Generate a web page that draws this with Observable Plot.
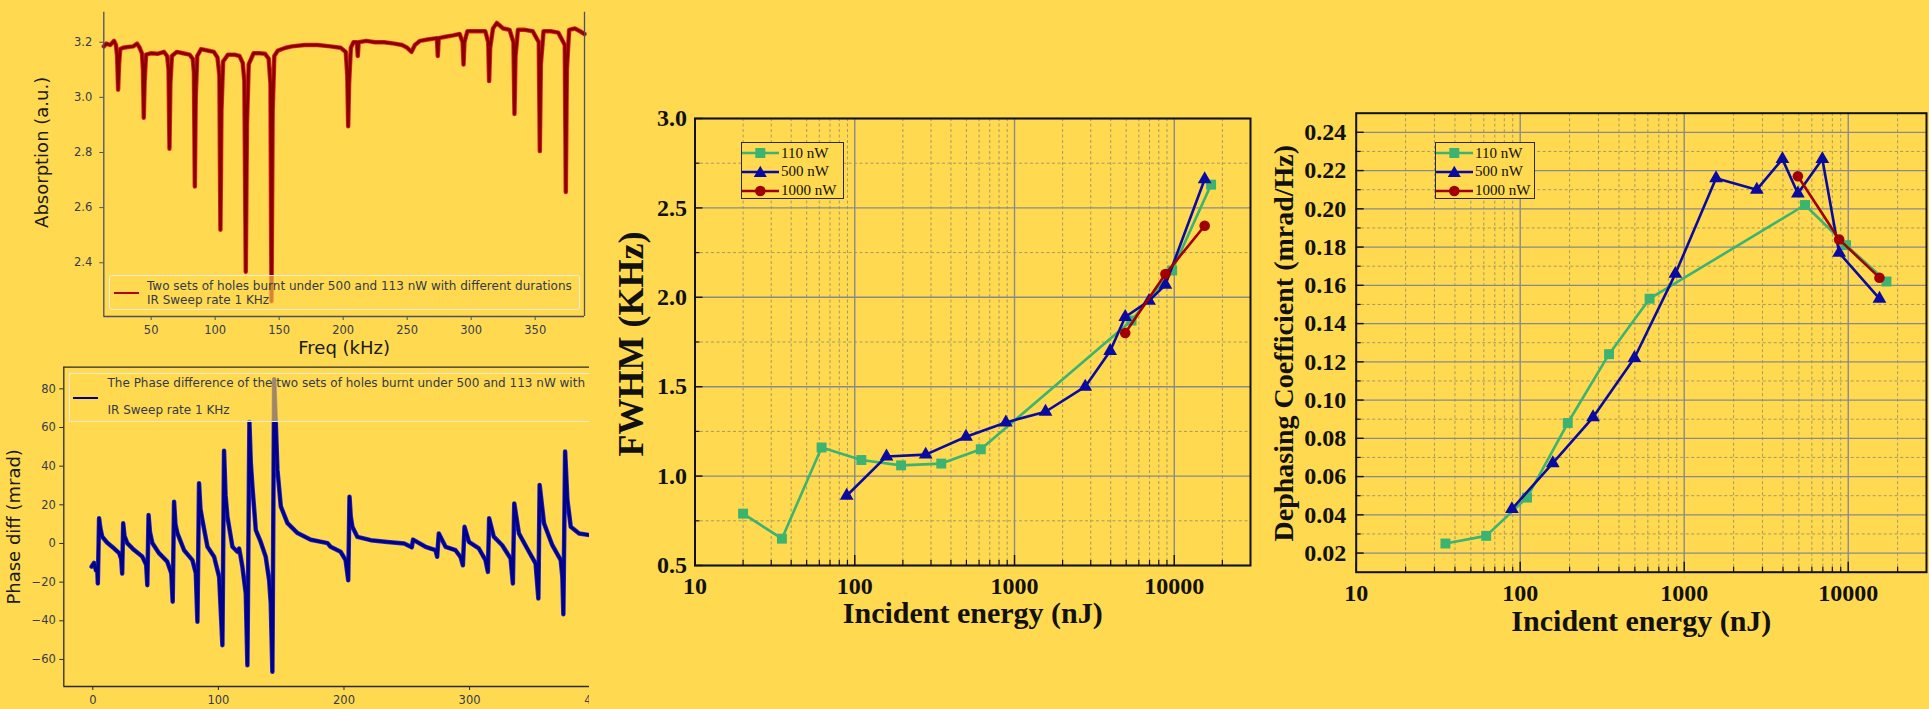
<!DOCTYPE html>
<html>
<head>
<meta charset="utf-8">
<script src="https://cdn.jsdelivr.net/npm/d3@7"></script>
<script src="https://cdn.jsdelivr.net/npm/@observablehq/plot@0.6"></script>
<style>
html,body{margin:0;padding:0;}
body{background:#FFD950;width:1929px;height:709px;overflow:hidden;position:relative;}
.panel{position:absolute;overflow:hidden;}
.panel svg{display:block;background:transparent;max-width:none;}
.mlegend{position:absolute;box-sizing:border-box;border:1px solid rgba(236,234,222,0.95);border-radius:3px;background:rgba(255,217,80,0.62);font-family:"DejaVu Sans",sans-serif;font-size:12px;color:#343a4a;overflow:hidden;}
.mlegend .txt{position:absolute;white-space:nowrap;line-height:14px;}
.mlegend .swatch{position:absolute;height:2px;}
.olegend{position:absolute;box-sizing:border-box;border:1.3px solid #2a2a2a;background:#FFD950;font-family:"Liberation Serif",serif;font-size:15px;color:#111;}
.olegend .row{position:absolute;left:0;height:16px;display:flex;align-items:center;white-space:nowrap;}
.olegend .row svg{display:block;margin-right:2px;}
</style>
</head>
<body>
<div id="pA" class="panel" style="left:0;top:0;width:600px;height:360px"></div>
<div id="pB" class="panel" style="left:0;top:355px;width:589px;height:354px"></div>
<div id="pC" class="panel" style="left:600px;top:90px;width:660px;height:560px"></div>
<div id="pD" class="panel" style="left:1260px;top:90px;width:669px;height:560px"></div>
<script>
// ---------- Panel A: absorption spectrum ----------
const absFreq = [13,15,18,21,22.5,23.4,24.2,24.9,25.8,28,32,36,39,41,42.8,43.6,44.2,44.9,46,50,55,60,62.5,63.6,64.3,65,66.2,70,75,80,82.5,83.4,84.1,84.8,86,89,94,99,101.8,103.3,104.1,104.9,106.2,110,115,119,121.5,122.8,123.9,124.8,126.2,130,135,139,141.8,143.2,144,144.9,146.2,149,155,160,170,180,190,198,202,203.2,203.9,204.6,206,208,210.7,211.4,212.1,218,225,232,240,246,250,253.4,256,260,266,273.2,273.9,274.6,280,286,291,293.3,294,294.7,297,305,311,313.3,314,314.8,317,320,325,330,333,333.8,334.6,336.5,342,348,352.8,353.6,354.4,356.5,362,368,373.1,373.9,374.7,376.5,381,385,388.5];
const absValue = [3.185,3.195,3.19,3.205,3.19,3.15,3.028,3.12,3.175,3.18,3.183,3.185,3.195,3.18,3.16,3.1,2.926,3.06,3.155,3.16,3.158,3.165,3.15,3.1,2.814,3.05,3.15,3.165,3.16,3.155,3.14,3.09,2.677,3.0,3.15,3.175,3.17,3.165,3.145,3.08,2.52,2.95,3.13,3.155,3.155,3.15,3.125,3.06,2.367,2.9,3.12,3.16,3.16,3.158,3.14,3.05,2.26,2.95,3.15,3.17,3.18,3.185,3.19,3.19,3.185,3.18,3.165,3.08,2.895,3.05,3.18,3.2,3.2,3.15,3.2,3.205,3.2,3.2,3.195,3.19,3.18,3.165,3.19,3.205,3.21,3.215,3.15,3.215,3.22,3.225,3.23,3.2,3.119,3.2,3.24,3.24,3.24,3.2,3.059,3.18,3.25,3.27,3.25,3.245,3.2,2.94,3.15,3.245,3.245,3.24,3.2,2.805,3.12,3.24,3.24,3.235,3.19,2.657,3.1,3.245,3.25,3.24,3.23];
const absXTicks = [50,100,150,200,250,300,350];
const absYTicks = [2.4,2.6,2.8,3.0,3.2];
const absXDomain = [13,388.5];
const absYDomain = [2.205,3.309];
const absLegend = ["Two sets of holes burnt under 500 and 113 nW with different durations","IR Sweep rate 1 KHz"];

// ---------- Panel B: phase difference ----------
const phaseFreq = [-1,1,2.5,3.5,4.0,5.0,6,7.5,11.5,16.8,21,22.6,23.4,24.2,25.2,27.4,32.7,39.4,42.5,43.4,44.4,45.5,47.4,52.7,59.3,62.5,63.6,64.7,65.8,67.4,72.7,79.3,82,83.3,84.6,85.7,87.3,91.3,96.6,100.6,103.2,104.5,105.7,107.2,111.2,115.1,116.5,117.5,119.1,121.8,123.1,124.7,125.8,127.1,129.8,133.7,137.7,140.4,141.7,143,144.4,145.7,147,149.7,155,163,173.6,186.9,189.3,197.3,201.3,203.4,204.4,205.4,206.7,210.7,221.3,234.6,247.9,254,255,264.9,272.9,274.2,275.5,280.9,288.8,292.8,294.7,296,299.5,307.4,312.7,314.6,315.6,319.3,326,332.7,334.5,335.6,339.3,345.9,352.6,354.8,355.8,359.3,365.9,372.6,373.9,374.7,376.1,377.9,380.6,387.2,396.5];
const phaseValue = [-12,-10,-14,-13,-20.7,13,8,3.5,0.4,-2.5,-5,-8,-15.6,10.4,4,0.2,-3.3,-6.8,-11,-21.6,14.7,6,0.2,-5,-9.4,-15.4,-30.1,21.6,10,5.2,-3.5,-8.6,-15.4,-40.5,31.1,18,12,-1.7,-6.9,-17.3,-52.7,48,25,13.8,-1.7,-4.3,-2.6,-6,-12,-25.9,-63,63,42,29.3,6.9,0.8,-6.9,-19,-31,-66.4,85,62.4,38.2,19.2,10.5,5.4,1.9,0.2,-1.7,-4.3,-8.6,-19,24.2,14,8.6,3.4,1.7,0.8,0,-2,2,-1.7,-3.5,-6.9,5.2,-1.7,-3.5,-7,-11.3,8.6,0.8,-2.6,-8.6,-14.7,13,3.5,-0.9,-7.8,-20.7,20.7,5.2,-2.6,-10.4,-28.5,30.2,10.4,-0.9,-8.6,-17.3,-36.6,47.6,22.5,8.6,5.2,4.3];
const phaseXTicks = [0,100,200,300,400];
const phaseYTicks = [-60,-40,-20,0,20,40,60,80];
const phaseXDomain = [-23.1,420.2];
const phaseYDomain = [-74,91.2];
const phaseLegend = ["The Phase difference of the two sets of holes burnt under 500 and 113 nW with","IR Sweep rate 1 KHz"];

// ---------- Panels C and D: FWHM and dephasing ----------
const seriesLabels = ["110 nW","500 nW","1000 nW"];
const seriesColors = ["#3cb371","#0a0aa0","#a00000"];
const seriesSymbols = ["square","triangle","circle"];
const energy110 = [20,35,62,110,195,348,615,5400,9700,17000];
const fwhm110 = [0.79,0.65,1.16,1.09,1.06,1.07,1.15,1.87,2.15,2.63];
const energy500 = [89,158,278,497,883,1563,2770,3970,4930,6950,8800,15500];
const fwhm500 = [0.89,1.11,1.12,1.22,1.30,1.36,1.50,1.70,1.89,1.98,2.07,2.66];
const energy1000 = [4930,8800,15500];
const fwhm1000 = [1.80,2.13,2.40];
const depEnergy110 = [35,62,110,195,348,615,5450,9700,17100];
const dep110 = [0.025,0.029,0.049,0.088,0.124,0.153,0.202,0.181,0.162];
const dep500 = [0.043,0.067,0.091,0.122,0.166,0.216,0.210,0.226,0.208,0.226,0.177,0.153];
const dep1000 = [0.217,0.184,0.164];
const logTicks = [10,100,1000,10000];
const logMinor = [20,30,40,50,60,70,80,90,200,300,400,500,600,700,800,900,2000,3000,4000,5000,6000,7000,8000,9000,20000];
const fwhmTicks = [0.5,1.0,1.5,2.0,2.5,3.0];
const fwhmMinor = [0.75,1.25,1.75,2.25,2.75];
const depTicks = [0.02,0.04,0.06,0.08,0.10,0.12,0.14,0.16,0.18,0.20,0.22,0.24];
const depMinor = [0.03,0.05,0.07,0.09,0.11,0.13,0.15,0.17,0.19,0.21,0.23];
const energyLabel = "Incident energy (nJ)";

const spine = "#4b5162";
const tickText = "#363b4b";

// Panel A
{
  const idx = d3.range(absFreq.length);
  const p = Plot.plot({
    width:600, height:360, marginLeft:103.3, marginRight:16, marginTop:11.7, marginBottom:44,
    style:{background:"transparent", color:tickText, fontFamily:"DejaVu Sans, sans-serif", fontSize:"11.5px"},
    x:{domain:absXDomain}, y:{domain:absYDomain},
    marks:[
      Plot.line(idx,{x:i=>absFreq[i], y:i=>absValue[i], stroke:"#dc2626", strokeWidth:4.5, strokeLinejoin:"round"}),
      Plot.line(idx,{x:i=>absFreq[i], y:i=>absValue[i], stroke:"#8b0000", strokeWidth:2.8, strokeLinejoin:"round"}),
      Plot.ruleX(absXDomain,{stroke:spine, strokeWidth:1.3}),
      Plot.ruleY([absYDomain[0]],{stroke:spine, strokeWidth:1.3}),
      Plot.axisX({ticks:absXTicks, tickSize:4, tickPadding:5, fontSize:11.5, label:null, stroke:spine}),
      Plot.axisY({ticks:absYTicks, tickFormat:d3.format(".1f"), tickSize:4, tickPadding:7.5, fontSize:11.5, label:null, stroke:spine}),
      Plot.text(["Freq (kHz)"],{frameAnchor:"bottom", dy:32, textAnchor:"middle", lineAnchor:"middle", fontSize:18, fill:"#1a1a1a"}),
      Plot.text(["Absorption (a.u.)"],{frameAnchor:"left", dx:-62, dy:-12, rotate:-90, textAnchor:"middle", lineAnchor:"middle", fontSize:18, fill:"#1a1a1a"})
    ]
  });
  const host = document.getElementById("pA");
  host.appendChild(p);
  const lg = document.createElement("div");
  lg.className = "mlegend";
  Object.assign(lg.style,{left:"109px", top:"275px", width:"471px", height:"35px"});
  lg.innerHTML = `<div class="swatch" style="left:4px;top:16px;width:25px;background:#b80000"></div>` +
    absLegend.map((t,i)=>`<div class="txt" style="left:37px;top:${3+i*14}px">${t}</div>`).join("");
  host.appendChild(lg);
}

// Panel B
{
  const idx = d3.range(phaseFreq.length);
  const p = Plot.plot({
    width:620, height:354, marginLeft:63.3, marginRight:0, marginTop:11.7, marginBottom:23,
    style:{background:"transparent", color:tickText, fontFamily:"DejaVu Sans, sans-serif", fontSize:"11.5px"},
    x:{domain:phaseXDomain}, y:{domain:phaseYDomain},
    marks:[
      Plot.line(idx,{x:i=>phaseFreq[i], y:i=>phaseValue[i], stroke:"#2b2bb5", strokeWidth:4.5, strokeLinejoin:"round"}),
      Plot.line(idx,{x:i=>phaseFreq[i], y:i=>phaseValue[i], stroke:"#00008b", strokeWidth:3, strokeLinejoin:"round"}),
      Plot.ruleX([phaseXDomain[0]],{stroke:"#2a2a2a", strokeWidth:1.3}),
      Plot.ruleY(phaseYDomain,{stroke:"#2a2a2a", strokeWidth:1.3}),
      Plot.axisX({ticks:phaseXTicks, tickSize:4, tickPadding:5, fontSize:11.5, label:null, stroke:"#2a2a2a"}),
      Plot.axisY({ticks:phaseYTicks, tickSize:4, tickPadding:4, fontSize:11.5, label:null, stroke:"#2a2a2a"}),
      Plot.text(["Phase diff (mrad)"],{frameAnchor:"left", dx:-50, rotate:-90, textAnchor:"middle", lineAnchor:"middle", fontSize:18, fill:"#1a1a1a"})
    ]
  });
  const host = document.getElementById("pB");
  host.appendChild(p);
  const lg = document.createElement("div");
  lg.className = "mlegend";
  Object.assign(lg.style,{left:"69px", top:"17.7px", width:"530px", height:"49px", borderRadius:"0"});
  lg.innerHTML = `<div class="swatch" style="left:3px;top:23px;width:25px;background:#00008b"></div>` +
    phaseLegend.map((t,i)=>`<div class="txt" style="left:37.5px;top:${2+i*27.6}px">${t}</div>`).join("");
  host.appendChild(lg);
}

function symbolSvg(sym, color){
  if (sym==="square") return `<rect x="13.3" y="3" width="10" height="10" fill="${color}"/>`;
  if (sym==="triangle") return `<polygon points="18.3,1.8 24.8,13 11.8,13" fill="${color}"/>`;
  return `<circle cx="18.3" cy="8" r="5.3" fill="${color}"/>`;
}
function originLegend(host, left, top, width){
  const box = document.createElement("div");
  box.className = "olegend";
  Object.assign(box.style,{left:left+"px", top:top+"px", width:width+"px", height:"57.5px"});
  box.innerHTML = seriesLabels.map((lab,i)=>
    `<div class="row" style="top:${2.5+18.7*i}px"><svg width="37" height="16"><line x1="0" y1="8" x2="37" y2="8" stroke="${seriesColors[i]}" stroke-width="2.5"/>${symbolSvg(seriesSymbols[i],seriesColors[i])}</svg><span>${lab}</span></div>`
  ).join("");
  host.appendChild(box);
}

function seriesMarks(xs, ys, k){
  const idx = d3.range(xs.length);
  const r = k===0 ? 5.6 : (k===1 ? 5.1 : 5.3);
  return [
    Plot.line(idx,{x:i=>xs[i], y:i=>ys[i], stroke:seriesColors[k], strokeWidth:2.6}),
    Plot.dot(idx,{x:i=>xs[i], y:i=>ys[i], symbol:seriesSymbols[k], r, fill:seriesColors[k], stroke:"none"})
  ];
}

function originPlot({width,height,mL,mR,mT,mB,yDomain,yTicks,yMinor,yFmt,series,yLabel,yLabelSize,yLabelDx,yLabelDy,xLabelDy,xPad,yPad}){
  const pw = width-mL-mR, ph = height-mT-mB;
  const grid = "#8a8a8a", dash = "#a69a62";
  return Plot.plot({
    width, height, marginLeft:mL, marginRight:mR, marginTop:mT, marginBottom:mB,
    style:{background:"transparent", color:"#111", fontFamily:"Liberation Serif, serif"},
    x:{type:"log", domain:[10,30000]},
    y:{domain:yDomain},
    marks:[
      Plot.ruleX(logMinor,{stroke:dash, strokeDasharray:"3,2.5", strokeWidth:1}),
      Plot.ruleY(yMinor,{stroke:dash, strokeDasharray:"3,2.5", strokeWidth:1}),
      Plot.ruleX(logTicks.slice(1),{stroke:grid, strokeWidth:1.4}),
      Plot.ruleY(yTicks,{stroke:grid, strokeWidth:1.4}),
      ...series,
      Plot.tickX(logTicks,{x:d=>d, insetTop:ph-10, stroke:"#111", strokeWidth:1.4}),
      Plot.tickX(logMinor,{x:d=>d, insetTop:ph-5, stroke:"#111", strokeWidth:1.2}),
      Plot.tickY(yTicks,{y:d=>d, insetRight:pw-8, stroke:"#111", strokeWidth:1.4}),
      Plot.tickY(yMinor,{y:d=>d, insetRight:pw-5, stroke:"#111", strokeWidth:1.2}),
      Plot.frame({stroke:"#111", strokeWidth:2}),
      Plot.axisX({ticks:logTicks, tickFormat:d=>String(d), tickSize:0, tickPadding:xPad, fontSize:24, fontWeight:"bold", label:null}),
      Plot.axisY({ticks:yTicks, tickFormat:d3.format(yFmt), tickSize:0, tickPadding:yPad, fontSize:24, fontWeight:"bold", label:null}),
      Plot.text([yLabel],{frameAnchor:"left", dx:yLabelDx, dy:yLabelDy, rotate:-90, textAnchor:"middle", lineAnchor:"middle", fontSize:yLabelSize, fontWeight:"bold", fill:"#111"}),
      Plot.text([energyLabel],{frameAnchor:"bottom", dy:xLabelDy, textAnchor:"middle", lineAnchor:"middle", fontSize:30, fontWeight:"bold", fill:"#111"})
    ]
  });
}

// Panel C
{
  const host = document.getElementById("pC");
  host.appendChild(originPlot({
    width:660, height:560, mL:94.5, mR:10, mT:28, mB:85,
    yDomain:[0.5,3.0], yTicks:fwhmTicks, yMinor:fwhmMinor, yFmt:".1f",
    series:[...seriesMarks(energy110,fwhm110,0), ...seriesMarks(energy500,fwhm500,1), ...seriesMarks(energy1000,fwhm1000,2)],
    yLabel:"FWHM (KHz)", yLabelSize:36, yLabelDx:-64, yLabelDy:2, xLabelDy:48, xPad:11, yPad:8
  }));
  originLegend(host, 141, 51.7, 103);
}

// Panel D
{
  const host = document.getElementById("pD");
  host.appendChild(originPlot({
    width:669, height:560, mL:95.7, mR:3, mT:22.7, mB:78.3,
    yDomain:[0.01,0.25], yTicks:depTicks, yMinor:depMinor, yFmt:".2f",
    series:[...seriesMarks(depEnergy110,dep110,0), ...seriesMarks(energy500,dep500,1), ...seriesMarks(energy1000,dep1000,2)],
    yLabel:"Dephasing Coefficient (mrad/Hz)", yLabelSize:28, yLabelDx:-72, yLabelDy:0.5, xLabelDy:49, xPad:12, yPad:10
  }));
  originLegend(host, 175, 51.8, 100);
}
</script>
</body>
</html>
